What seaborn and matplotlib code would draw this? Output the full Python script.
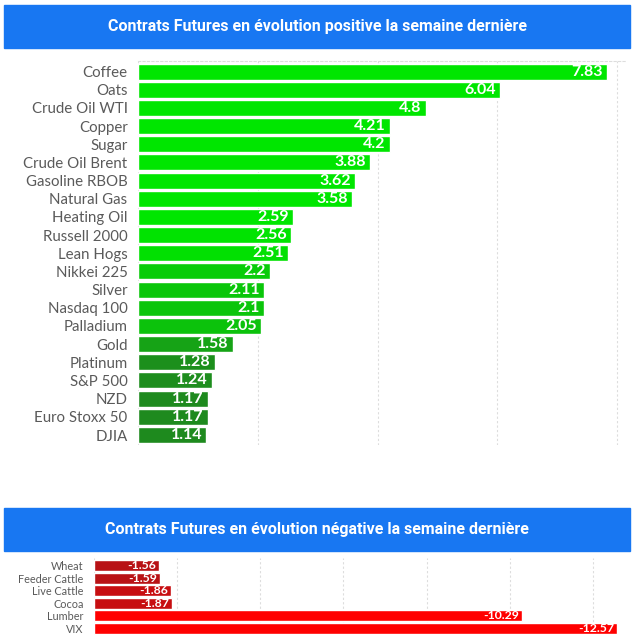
import numpy as np
import seaborn as sns
from matplotlib import pyplot as plt
from matplotlib.colors import LinearSegmentedColormap, Normalize
from matplotlib.patches import Rectangle

# data
pos_labels = ['Coffee', 'Oats', 'Crude Oil WTI', 'Copper', 'Sugar', 'Crude Oil Brent',
              'Gasoline RBOB', 'Natural Gas', 'Heating Oil', 'Russell 2000', 'Lean Hogs',
              'Nikkei 225', 'Silver', 'Nasdaq 100', 'Palladium', 'Gold', 'Platinum',
              'S&P 500', 'NZD', 'Euro Stoxx 50', 'DJIA']
pos_values = [7.83, 6.04, 4.8, 4.21, 4.2, 3.88, 3.62, 3.58, 2.59, 2.56, 2.51,
              2.2, 2.11, 2.1, 2.05, 1.58, 1.28, 1.24, 1.17, 1.17, 1.14]
pos_title = 'Contrats Futures en évolution positive la semaine dernière'

neg_labels = ['Wheat', 'Feeder Cattle', 'Live Cattle', 'Cocoa', 'Lumber', 'VIX']
neg_values = [-1.56, -1.59, -1.86, -1.87, -10.29, -12.57]
neg_title = 'Contrats Futures en évolution négative la semaine dernière'

sns.set_style('white')
plt.rcParams['font.family'] = ['Lato', 'DejaVu Sans']

fig = plt.figure(figsize=(6.34, 6.43), dpi=100)
W, H = 634, 643
blue = '#1877f2'
title_font = ['Liberation Sans Narrow', 'Roboto', 'DejaVu Sans']


def banner(y0, y1, text):
    fig.patches.append(Rectangle((4 / W, 1 - y1 / H), 626 / W, (y1 - y0) / H,
                                 transform=fig.transFigure, color=blue, zorder=0))
    fig.text(317 / W, 1 - (y0 + y1) / 2 / H, text, color='white', fontsize=11.5,
             fontweight='bold', family=title_font, ha='center', va='center')


def axes_px(left, top, right, bottom):
    return fig.add_axes([left / W, 1 - bottom / H, (right - left) / W, (bottom - top) / H])


# positive chart
banner(5, 48, pos_title)
ax1 = axes_px(138, 61, 625, 445)
green = LinearSegmentedColormap.from_list('g', ['#1e8a1e', '#00e600'])
gnorm = Normalize(1.2, 2.6, clip=True)
sns.barplot(x=pos_values, y=pos_labels, hue=pos_labels, legend=False,
            palette=[green(gnorm(v)) for v in pos_values], orient='h',
            width=0.88, saturation=1, ax=ax1)
for i, v in enumerate(pos_values):
    ax1.annotate(f'{v:g}', (v, i), xytext=(-3, 0), textcoords='offset points',
                 ha='right', va='center', color='white', fontsize=11.5, fontweight='bold')
ax1.set_xlim(0, 8.13)
ax1.set_ylim(len(pos_values) - 0.45, -0.58)
ax1.set_xticks([0, 2, 4, 6, 8])
ax1.xaxis.grid(True, color='#dddddd', linestyle=(0, (2, 2)), linewidth=0.8)
ax1.set_axisbelow(True)
ax1.tick_params(axis='x', bottom=False, labelbottom=False)
ax1.tick_params(axis='y', left=False, pad=4, labelsize=10.8, labelcolor='#5a5a5a')
for s in ['left', 'right', 'bottom']:
    ax1.spines[s].set_visible(False)
ax1.spines['top'].set_color('#dddddd')
ax1.spines['top'].set_linestyle((0, (2, 2)))
ax1.set_xlabel('')
ax1.set_ylabel('')

# negative chart
banner(508, 551, neg_title)
ax2 = axes_px(94, 558, 622, 635)
red = LinearSegmentedColormap.from_list('r', ['#b01418', '#ff0000'])
rnorm = Normalize(1.4, 3.0, clip=True)
neg_abs = [abs(v) for v in neg_values]
sns.barplot(x=neg_abs, y=neg_labels, hue=neg_labels, legend=False,
            palette=[red(rnorm(v)) for v in neg_abs], orient='h',
            width=0.88, saturation=1, ax=ax2)
for i, v in enumerate(neg_values):
    ax2.annotate(f'{v:g}', (abs(v), i), xytext=(-2, 0), textcoords='offset points',
                 ha='right', va='center', color='white', fontsize=8.8, fontweight='bold')
ax2.set_xlim(0, 12.7)
ax2.set_ylim(len(neg_values) - 0.45, -0.6)
ax2.set_xticks([0, 2, 4, 6, 8, 10, 12])
ax2.xaxis.grid(True, color='#dddddd', linestyle=(0, (2, 2)), linewidth=0.8)
ax2.set_axisbelow(True)
ax2.tick_params(axis='x', bottom=False, labelbottom=False)
ax2.tick_params(axis='y', left=False, pad=4, labelsize=7.8, labelcolor='#5a5a5a')
for s in ['left', 'right', 'bottom', 'top']:
    ax2.spines[s].set_visible(False)
ax2.set_xlabel('')
ax2.set_ylabel('')

fig.savefig('out.png', dpi=100, facecolor='white')
